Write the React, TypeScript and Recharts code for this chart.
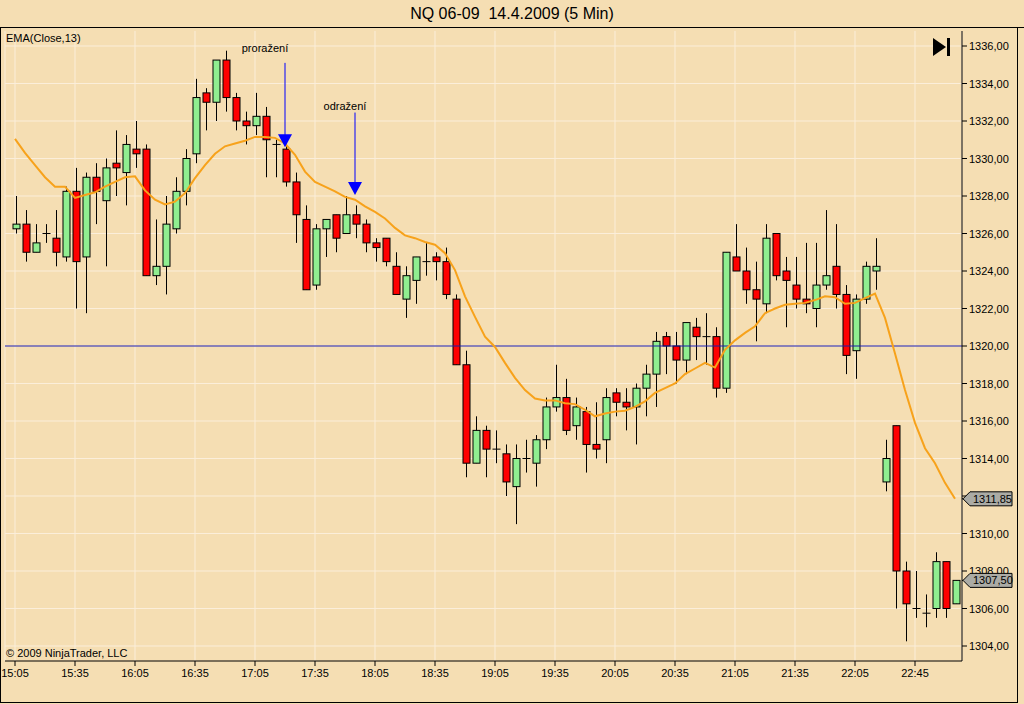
import {
  ComposedChart,
  Bar,
  Line,
  XAxis,
  YAxis,
  CartesianGrid,
  ReferenceLine,
  ReferenceDot,
} from 'recharts';

const times = [
  '15:05', '15:10', '15:15', '15:20', '15:25', '15:30', '15:35', '15:40', '15:45', '15:50', '15:55',
  '16:00', '16:05', '16:10', '16:15', '16:20', '16:25', '16:30', '16:35', '16:40', '16:45', '16:50', '16:55',
  '17:00', '17:05', '17:10', '17:15', '17:20', '17:25', '17:30', '17:35', '17:40', '17:45', '17:50', '17:55',
  '18:00', '18:05', '18:10', '18:15', '18:20', '18:25', '18:30', '18:35', '18:40', '18:45', '18:50', '18:55',
  '19:00', '19:05', '19:10', '19:15', '19:20', '19:25', '19:30', '19:35', '19:40', '19:45', '19:50', '19:55',
  '20:00', '20:05', '20:10', '20:15', '20:20', '20:25', '20:30', '20:35', '20:40', '20:45', '20:50', '20:55',
  '21:00', '21:05', '21:10', '21:15', '21:20', '21:25', '21:30', '21:35', '21:40', '21:45', '21:50', '21:55',
  '22:00', '22:05', '22:10', '22:15',
  '22:30', '22:35', '22:40', '22:45', '22:50', '22:55', '23:00', '23:05',
];

const opens = [
  1326.25, 1326.5, 1325.0, 1326.0, 1325.75, 1324.75, 1328.25, 1324.75, 1329.0, 1327.75,
  1329.75, 1329.25, 1330.5, 1330.5, 1323.75, 1324.25, 1326.25, 1328.25, 1330.25, 1333.5,
  1333.0, 1335.25, 1333.25, 1332.0, 1331.75, 1332.25, 1330.75, 1330.5, 1328.75, 1326.75,
  1323.25, 1326.25, 1327.0, 1326.0, 1327.0, 1326.5, 1325.5, 1325.75, 1324.25, 1322.5,
  1323.5, 1324.5, 1324.75, 1324.5, 1322.5, 1319.0, 1313.75, 1315.5, 1314.5, 1314.25,
  1312.5, 1314.0, 1313.75, 1315.0, 1316.75, 1317.25, 1315.75, 1316.5, 1314.75, 1315.0,
  1317.5, 1317.0, 1316.75, 1317.75, 1318.5, 1320.5, 1320.0, 1319.25, 1321.0, 1320.5,
  1320.5, 1317.75, 1324.75, 1324.0, 1323.0, 1322.25, 1326.0, 1324.0, 1323.25, 1322.5,
  1322.0, 1323.25, 1324.25, 1322.75, 1319.75, 1322.5, 1324.0, 1312.75, 1315.75, 1308.0,
  1306.0, 1305.75, 1306.0, 1308.5, 1306.25,
];

const highs = [
  1328.0, 1327.25, 1326.5, 1326.5, 1327.25, 1328.5, 1329.5, 1329.25, 1329.75, 1330.0,
  1331.5, 1331.25, 1332.0, 1330.75, 1326.75, 1328.0, 1329.0, 1330.5, 1334.25, 1333.75,
  1335.25, 1335.75, 1333.5, 1332.5, 1333.5, 1332.75, 1331.0, 1330.75, 1329.25, 1327.5,
  1326.5, 1326.75, 1327.0, 1328.0, 1327.5, 1326.75, 1325.75, 1325.75, 1325.0, 1324.25,
  1324.75, 1325.5, 1325.0, 1325.25, 1322.75, 1319.75, 1316.25, 1315.75, 1315.5, 1314.75,
  1314.75, 1315.0, 1315.25, 1317.25, 1319.0, 1318.25, 1317.25, 1316.75, 1317.0, 1317.75,
  1317.75, 1317.75, 1318.0, 1319.0, 1320.75, 1320.75, 1320.75, 1321.25, 1321.5, 1321.75,
  1321.0, 1325.0, 1326.5, 1325.25, 1324.5, 1326.5, 1326.0, 1324.75, 1324.75, 1325.5,
  1325.5, 1327.25, 1326.5, 1323.25, 1322.75, 1324.5, 1325.75, 1315.0, 1315.75, 1308.5,
  1308.0, 1306.75, 1309.0, 1308.5, 1307.5,
];

const lows = [
  1326.0, 1324.5, 1325.0, 1325.5, 1324.25, 1324.5, 1322.0, 1321.75, 1326.5, 1324.25,
  1328.0, 1327.5, 1329.5, 1323.75, 1323.25, 1322.75, 1326.0, 1327.5, 1329.75, 1331.5,
  1332.0, 1332.5, 1331.5, 1330.75, 1331.25, 1329.0, 1329.0, 1328.5, 1325.5, 1323.0,
  1323.0, 1324.75, 1325.0, 1326.0, 1325.75, 1325.0, 1324.5, 1324.25, 1322.75, 1321.5,
  1322.25, 1323.75, 1323.5, 1322.5, 1319.0, 1313.0, 1313.75, 1313.0, 1313.75, 1312.0,
  1310.5, 1313.25, 1312.5, 1314.5, 1316.5, 1315.25, 1315.0, 1313.25, 1314.0, 1313.75,
  1316.25, 1315.5, 1314.75, 1316.25, 1316.75, 1318.5, 1318.0, 1318.5, 1319.25, 1319.0,
  1317.25, 1317.5, 1324.0, 1322.25, 1320.25, 1321.75, 1323.5, 1321.0, 1322.0, 1321.75,
  1321.0, 1323.0, 1322.0, 1318.5, 1318.25, 1322.25, 1323.0, 1312.25, 1306.0, 1304.25,
  1305.5, 1305.0, 1305.5, 1305.5, 1306.25,
];

const closes = [
  1326.5, 1325.0, 1325.5, 1326.0, 1325.0, 1328.25, 1324.5, 1329.0, 1328.25, 1329.5,
  1329.5, 1330.75, 1330.25, 1323.75, 1324.25, 1326.5, 1328.25, 1330.0, 1333.25, 1333.0,
  1335.25, 1333.25, 1332.0, 1331.75, 1332.25, 1331.0, 1330.75, 1328.75, 1327.0, 1323.0,
  1326.25, 1326.75, 1325.75, 1327.0, 1326.5, 1325.5, 1325.25, 1324.5, 1322.75, 1323.75,
  1324.75, 1324.5, 1324.5, 1322.75, 1319.0, 1313.75, 1315.5, 1314.5, 1314.5, 1312.75,
  1314.0, 1314.0, 1315.0, 1316.75, 1317.25, 1315.5, 1316.75, 1314.75, 1314.5, 1317.25,
  1317.0, 1316.75, 1317.75, 1318.5, 1320.25, 1320.0, 1319.25, 1321.25, 1320.5, 1320.5,
  1317.75, 1325.0, 1324.0, 1323.0, 1322.5, 1325.75, 1323.75, 1323.5, 1322.5, 1322.25,
  1323.25, 1323.75, 1322.75, 1319.5, 1322.5, 1324.25, 1324.25, 1314.0, 1308.0, 1306.25,
  1306.0, 1305.75, 1308.5, 1306.0, 1307.5,
];

// EMA(Close,13)
const ema = [
  1331.05, 1330.3, 1329.65, 1329.0, 1328.5, 1328.5, 1327.9, 1328.05, 1328.2, 1328.5,
  1328.75, 1329.0, 1329.05, 1328.3, 1327.8, 1327.55, 1327.7, 1328.15, 1328.95, 1329.65,
  1330.25, 1330.65, 1330.8, 1330.95, 1331.15, 1331.15, 1331.1, 1330.8, 1330.2, 1329.3,
  1328.75, 1328.5, 1328.25, 1327.95, 1327.8, 1327.45, 1327.15, 1326.8, 1326.3, 1325.9,
  1325.75, 1325.55, 1325.4, 1324.95, 1324.05, 1322.65, 1321.55, 1320.5, 1319.95, 1319.1,
  1318.3, 1317.65, 1317.2, 1317.1, 1317.1, 1316.95, 1316.9, 1316.6, 1316.25, 1316.4,
  1316.5, 1316.55, 1316.75, 1317.05, 1317.5, 1317.75, 1318.0, 1318.5, 1318.8, 1319.1,
  1318.85, 1319.8, 1320.3, 1320.7, 1321.05, 1321.75, 1322.0, 1322.2, 1322.25, 1322.3,
  1322.45, 1322.65, 1322.6, 1322.25, 1322.3, 1322.55, 1322.8, 1321.5, 1319.6, 1317.65,
  1315.9, 1314.55, 1313.75, 1312.7, 1311.85,
];

const yTicks = [
  1304, 1306, 1308, 1310, 1312, 1314, 1316, 1318, 1320,
  1322, 1324, 1326, 1328, 1330, 1332, 1334, 1336,
];

const levelLine = 1320;

const arrows = [
  { t: '17:20', top: 1335.1, tip: 1330.6, labelT: '17:10', labelY: 1335.9, label: 'proražení' },
  { t: '17:55', top: 1332.45, tip: 1328.05, labelT: '17:50', labelY: 1332.8, label: 'odražení' },
];

// last values shown as boxed markers on the price axis
const lastEma = 1311.85;
const lastClose = 1307.5;
const boxed = [lastEma, lastClose];

const data = times.map((t, i) => ({
  t,
  o: opens[i],
  h: highs[i],
  l: lows[i],
  c: closes[i],
  range: [lows[i], highs[i]],
  ema: ema[i],
}));

const BG = '#F5DEB3';
const GRID = '#FBEEDA';
const FONT = '"Liberation Sans", Arial, sans-serif';

const fmt = (v: number) => v.toFixed(2).replace('.', ',');

function Candle(props: any) {
  const { x, y, width, height, payload } = props;
  const top = Math.min(y, y + height);
  const bot = Math.max(y, y + height);
  const { o, h, l, c } = payload;
  const ppu = h === l ? 0 : (bot - top) / (h - l);
  const py = (v: number) => top + (h - v) * ppu;
  const cx = Math.round(x + width / 2) + 0.5;
  const yO = py(o);
  const yC = py(c);
  return (
    <g>
      <line x1={cx} x2={cx} y1={top} y2={bot} stroke="#000" strokeWidth={1} />
      {o === c ? (
        <line x1={cx - 4} x2={cx + 4} y1={yO} y2={yO} stroke="#000" strokeWidth={1} />
      ) : (
        <rect
          x={cx - 3.5}
          y={Math.min(yO, yC)}
          width={7}
          height={Math.max(Math.abs(yO - yC), 1)}
          fill={c > o ? '#90EE90' : '#FF0000'}
          stroke="#000"
          strokeWidth={1}
        />
      )}
    </g>
  );
}

function PriceTick(props: any) {
  const { x, y, payload } = props;
  const v = payload.value;
  if (boxed.includes(v)) {
    const x0 = x - 6;
    const pts = `${x0},${y} ${x0 + 7},${y - 7} ${x0 + 49},${y - 7} ${x0 + 49},${y + 7} ${x0 + 7},${y + 7}`;
    return (
      <g>
        <polygon points={pts} fill="#ABABA5" stroke="#000" strokeWidth={1} />
        <text x={x0 + 10} y={y} dominantBaseline="central" fontSize={11} fill="#000">
          {fmt(v)}
        </text>
      </g>
    );
  }
  return (
    <text x={x} y={y} dominantBaseline="central" fontSize={11} fill="#000">
      {fmt(v)}
    </text>
  );
}

export default function App() {
  return (
    <div
      style={{
        position: 'absolute',
        left: 0,
        top: 0,
        width: 1024,
        height: 704,
        background: BG,
        fontFamily: FONT,
        overflow: 'hidden',
      }}
    >
      <div
        style={{
          position: 'absolute',
          left: 0,
          top: 0,
          width: 1024,
          height: 27,
          lineHeight: '27px',
          textAlign: 'center',
          fontSize: 16,
          color: '#000',
          borderBottom: '1px solid #000',
          whiteSpace: 'pre',
        }}
      >
        {'NQ 06-09  14.4.2009 (5 Min)'}
      </div>
      <div
        style={{
          position: 'absolute',
          left: 0,
          top: 27,
          width: 1016,
          height: 675,
          borderLeft: '1px solid #000',
          borderRight: '1px solid #000',
          borderBottom: '1px solid #000',
        }}
      />
      <div style={{ position: 'absolute', left: 0, top: 0 }}>
        <ComposedChart
          width={1024}
          height={704}
          data={data}
          margin={{ top: 31, right: 0, bottom: 0, left: 5 }}
        >
          <CartesianGrid stroke={GRID} strokeWidth={1} horizontalValues={yTicks} />
          <XAxis
            dataKey="t"
            interval={5}
            padding={{ left: 5, right: 2 }}
            height={43}
            tickSize={5}
            tickMargin={3}
            axisLine={{ stroke: '#000' }}
            tickLine={{ stroke: '#000' }}
            tick={{ fontSize: 11, fill: '#000' }}
          />
          <YAxis
            orientation="right"
            width={62}
            domain={[1303.2, 1336.8]}
            allowDataOverflow
            ticks={[...yTicks, ...boxed]}
            interval={0}
            tickSize={5}
            tickMargin={2}
            axisLine={{ stroke: '#000' }}
            tickLine={{ stroke: '#000' }}
            tick={<PriceTick />}
          />
          <ReferenceLine y={levelLine} stroke="#1A1AA8" strokeWidth={1} />
          <Bar dataKey="range" barSize={7} shape={Candle} isAnimationActive={false} />
          <Line
            dataKey="ema"
            type="linear"
            stroke="#F7A21B"
            strokeWidth={2}
            dot={false}
            activeDot={false}
            isAnimationActive={false}
          />
          {arrows.map((a) => (
            <ReferenceLine
              key={a.label + 'line'}
              segment={[
                { x: a.t, y: a.top },
                { x: a.t, y: a.tip + 0.5 },
              ]}
              stroke="#0000FF"
              strokeWidth={1}
            />
          ))}
          {arrows.map((a) => (
            <ReferenceDot
              key={a.label + 'tip'}
              x={a.t}
              y={a.tip}
              r={1}
              shape={(p: any) => (
                <polygon
                  points={`${p.cx - 7},${p.cy - 13} ${p.cx + 7},${p.cy - 13} ${p.cx},${p.cy}`}
                  fill="#0000FF"
                />
              )}
            />
          ))}
          {arrows.map((a) => (
            <ReferenceDot
              key={a.label + 'text'}
              x={a.labelT}
              y={a.labelY}
              r={1}
              shape={(p: any) => (
                <text
                  x={p.cx}
                  y={p.cy}
                  textAnchor="middle"
                  dominantBaseline="central"
                  fontSize={11}
                  fill="#000"
                >
                  {a.label}
                </text>
              )}
            />
          ))}
        </ComposedChart>
      </div>
      <div style={{ position: 'absolute', left: 6, top: 32, fontSize: 11, color: '#000' }}>
        EMA(Close,13)
      </div>
      <div style={{ position: 'absolute', left: 6, top: 647, fontSize: 11, color: '#000' }}>
        © 2009 NinjaTrader, LLC
      </div>
      <svg style={{ position: 'absolute', left: 930, top: 36 }} width={24} height={22}>
        <polygon points="3,2 16,11 3,20" fill="#000" />
        <rect x={17} y={2} width={3} height={18} fill="#000" />
      </svg>
    </div>
  );
}
